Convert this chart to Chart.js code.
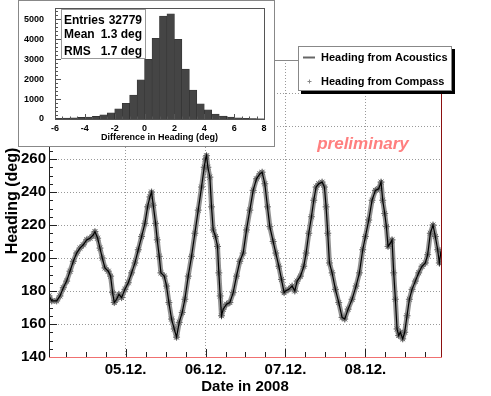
<!DOCTYPE html>
<html>
<head>
<meta charset="utf-8">
<script src="https://cdn.jsdelivr.net/npm/chart.js@4.4.1/dist/chart.umd.min.js"></script>
<style>
    body { margin: 0; background: #fff; }
    #wrap { position: relative; width: 491px; height: 396px; }
    #main { position: absolute; left: 0; top: 0; }
    #inset { position: absolute; left: 18px; top: 0; z-index: 2; }
</style>
</head>
<body>
<div id="wrap">
    <canvas id="main" width="491" height="396"></canvas>
    <canvas id="inset" width="257" height="147"></canvas>
</div>
<script>
// hours since 04.12.2008 00:00
const hours = [1.0, 1.8, 3.3, 4.3, 5.3, 6.3, 7.3, 8.3, 9.3, 10.3, 11.3, 12.3, 13.3, 14.3, 14.8, 15.6, 16.3, 17.0, 17.8, 18.8,
    19.5, 20.1, 20.6, 21.3, 22.0, 22.8, 23.8, 24.8, 25.8, 26.8, 27.8, 28.8, 29.8, 30.6, 31.3, 31.8, 32.3, 33.0, 33.5, 34.1,
    34.6, 35.6, 36.3, 37.0, 37.8, 38.6, 39.3, 40.1, 41.0, 41.8, 42.8, 43.8, 44.8, 45.8, 46.8, 47.6, 48.0, 48.3, 48.7, 49.3,
    49.8, 50.3, 51.0, 51.6, 52.0, 52.4, 52.8, 53.3, 54.3, 55.3, 56.3, 57.3, 58.3, 59.3, 60.3, 61.3, 62.3, 63.3, 64.3, 65.0,
    65.8, 66.6, 67.3, 68.3, 69.1, 70.0, 70.8, 71.6, 72.0, 73.0, 74.0, 74.8, 75.5, 76.5, 77.5, 78.2, 79.0, 79.8, 80.5, 81.2,
    82.0, 83.0, 83.7, 84.2, 84.7, 85.2, 86.0, 87.0, 88.0, 89.0, 89.8, 90.8, 92.0, 93.2, 94.2, 95.2, 96.0, 97.0, 98.0, 99.0,
    100.0, 100.7, 101.2, 101.8, 102.3, 102.8, 103.5, 104.0, 104.5, 105.0, 105.5, 106.0, 106.5, 107.2, 107.8, 108.5, 109.2, 110.0, 111.0, 112.0,
    113.0, 114.0, 114.7, 115.5, 116.3, 117.0, 117.7, 118.2, 118.7];
const headingDeg = [177, 174, 174, 177, 182, 186, 192, 198, 203, 206, 208, 211, 212, 214, 216, 212, 206, 200, 194, 192,
    189, 179, 173, 175, 178, 176, 181, 185, 191, 197, 205, 213, 221, 231, 237, 240, 232, 221, 211, 201,
    191, 189, 183, 173, 163, 157, 152, 161, 167, 175, 189, 201, 215, 229, 243, 255, 260, 262, 255, 249,
    231, 217, 213, 207, 191, 177, 165, 169, 172, 173, 179, 189, 198, 203, 217, 229, 241, 248, 251, 252,
    245, 231, 219, 210, 203, 195, 187, 179, 180, 181, 183, 180, 186, 189, 195, 203, 215, 225, 235, 243,
    245, 246, 243, 231, 215, 197, 191, 181, 173, 164, 163, 169, 175, 183, 191, 205, 213, 223, 235, 241,
    242, 246, 235, 227, 219, 207, 209, 211, 191, 175, 157, 153, 155, 151, 155, 165, 175, 181, 186, 191,
    195, 197, 202, 215, 220, 213, 205, 197, 204];
const dayLabels = ['05.12.', '06.12.', '07.12.', '08.12.'];

// inset histogram: heading difference (deg), 0.5 deg bins
const diffBinCenter = [-5.75, -5.25, -4.75, -4.25, -3.75, -3.25, -2.75, -2.25, -1.75, -1.25, -0.75, -0.25, 0.25, 0.75,
    1.25, 1.75, 2.25, 2.75, 3.25, 3.75, 4.25, 4.75, 5.25, 5.75, 6.25, 6.75, 7.25, 7.75];
const diffCounts = [30, 45, 60, 80, 100, 130, 210, 310, 510, 790, 1200, 1970, 3000, 4050,
    5170, 5280, 4000, 2500, 1450, 760, 460, 250, 150, 100, 60, 30, 20, 10];
const diffYTicks = [0, 1000, 2000, 3000, 4000, 5000];
const diffXTicks = [-6, -4, -2, 0, 2, 4, 6, 8];
const statsLines = [['Entries', '32779'], ['Mean', '1.3 deg'], ['RMS', '1.7 deg']];

Chart.defaults.font.family = "'Liberation Sans', Arial, sans-serif";
Chart.defaults.color = '#000';

const points = hours.map((h, i) => ({ x: h, y: headingDeg[i] }));

const mainDecor = {
    id: 'mainDecor',
    afterDraw(chart) {
        const ctx = chart.ctx;
        const a = chart.chartArea;
        const xs = chart.scales.x, ys = chart.scales.y;
        ctx.save();
        // frame
        ctx.lineWidth = 1;
        ctx.strokeStyle = '#888';
        ctx.beginPath(); ctx.moveTo(a.left, a.top + 0.5); ctx.lineTo(a.right, a.top + 0.5); ctx.stroke();
        ctx.strokeStyle = '#8b1010';
        ctx.beginPath(); ctx.moveTo(a.right + 0.5, a.top); ctx.lineTo(a.right + 0.5, a.bottom); ctx.stroke();
        ctx.strokeStyle = '#222';
        ctx.beginPath(); ctx.moveTo(a.left + 0.5, a.top); ctx.lineTo(a.left + 0.5, a.bottom); ctx.stroke();
        // ticks, pointing inward
        ctx.strokeStyle = '#222';
        ctx.beginPath();
        for (let v = 140; v <= 320; v += 5) {
            const y = Math.round(ys.getPixelForValue(v)) + 0.5;
            ctx.moveTo(a.left, y); ctx.lineTo(a.left + (v % 20 === 0 ? 8 : 4), y);
        }
        for (let h = 6; h < 119; h += 6) {
            const x = Math.round(xs.getPixelForValue(h)) + 0.5;
            ctx.moveTo(x, a.bottom); ctx.lineTo(x, a.bottom - (h % 24 === 0 ? 8 : 5));
        }
        ctx.stroke();
        ctx.strokeStyle = '#f07070';
        ctx.beginPath(); ctx.moveTo(a.left, a.bottom + 0.5); ctx.lineTo(a.right + 1, a.bottom + 0.5); ctx.stroke();

        // y title
        ctx.fillStyle = '#000';
        ctx.font = "bold 16px 'Liberation Sans', Arial, sans-serif";
        ctx.textAlign = 'center';
        ctx.textBaseline = 'middle';
        ctx.translate(12.5, 201);
        ctx.rotate(-Math.PI / 2);
        ctx.fillText('Heading (deg)', 0, 0);
        ctx.setTransform(1, 0, 0, 1, 0, 0);

        // preliminary
        ctx.fillStyle = '#ff7f7f';
        ctx.font = "italic bold 17px 'Liberation Sans', Arial, sans-serif";
        ctx.textBaseline = 'alphabetic';
        ctx.fillText('preliminary', 363, 149);

        // legend box
        ctx.fillStyle = '#000';
        ctx.fillRect(301, 49, 154, 45);
        ctx.fillStyle = '#fff';
        ctx.fillRect(298, 46, 154, 45);
        ctx.strokeStyle = '#888';
        ctx.strokeRect(298.5, 46.5, 153, 44);
        ctx.strokeStyle = '#666';
        ctx.lineWidth = 2;
        ctx.beginPath(); ctx.moveTo(303, 57.5); ctx.lineTo(315, 57.5); ctx.stroke();
        ctx.lineWidth = 1;
        ctx.strokeStyle = '#888';
        ctx.beginPath();
        ctx.moveTo(307.5, 81.5); ctx.lineTo(311.5, 81.5);
        ctx.moveTo(309.5, 79.5); ctx.lineTo(309.5, 83.5);
        ctx.stroke();
        ctx.fillStyle = '#000';
        ctx.font = "bold 11px 'Liberation Sans', Arial, sans-serif";
        ctx.textAlign = 'left';
        ctx.textBaseline = 'middle';
        ctx.fillText('Heading from Acoustics', 321, 58);
        ctx.fillText('Heading from Compass', 321, 82);
        ctx.restore();
    }
};

new Chart(document.getElementById('main'), {
    type: 'line',
    data: {
        datasets: [
            {
                label: 'Heading from Acoustics',
                data: points,
                borderColor: '#000',
                borderWidth: 1.2,
                pointRadius: 0,
                tension: 0,
                order: 0
            },
            {
                // compass readings follow the same trace, densely sampled -> grey band of stars
                label: 'Heading from Compass',
                data: points,
                showLine: true,
                borderColor: 'rgba(110,110,110,0.75)',
                borderWidth: 5,
                borderJoinStyle: 'round',
                borderCapStyle: 'round',
                pointStyle: 'star',
                pointRadius: 3.5,
                pointBorderColor: '#666',
                pointBorderWidth: 1,
                tension: 0,
                order: 1
            }
        ]
    },
    options: {
        responsive: false,
        animation: false,
        devicePixelRatio: 1,
        layout: { padding: { left: 0, top: 60, right: 50, bottom: 0 } },
        plugins: { legend: { display: false }, tooltip: { enabled: false } },
        scales: {
            x: {
                type: 'linear',
                min: 1,
                max: 118.7,
                afterFit: s => { s.height = 39; },
                border: { display: false, dash: [1, 2] },
                grid: {
                    drawTicks: false,
                    color: c => (c.tick && c.tick.value % 24 === 0) ? '#999' : 'rgba(0,0,0,0)'
                },
                ticks: {
                    stepSize: 6,
                    autoSkip: false,
                    maxRotation: 0,
                    padding: 4,
                    font: { size: 15, weight: 'bold' },
                    callback: v => (v % 24 === 0 && v > 0) ? dayLabels[v / 24 - 1] : ''
                },
                title: {
                    display: true,
                    text: 'Date in 2008',
                    font: { size: 15, weight: 'bold' },
                    padding: { top: 0, bottom: 0 }
                }
            },
            y: {
                min: 140,
                max: 320,
                afterFit: s => { s.width = 49; },
                border: { display: false, dash: [1, 2] },
                grid: {
                    drawTicks: false,
                    color: c => (c.tick && c.tick.value > 140 && c.tick.value < 320) ? '#999' : 'rgba(0,0,0,0)'
                },
                ticks: {
                    stepSize: 20,
                    padding: 3,
                    font: { size: 15, weight: 'bold' }
                }
            }
        }
    },
    plugins: [mainDecor]
});

const insetDecor = {
    id: 'insetDecor',
    beforeDraw(chart) {
        const ctx = chart.ctx;
        ctx.save();
        ctx.fillStyle = '#fff';
        ctx.fillRect(0, 0, chart.width, chart.height);
        ctx.strokeStyle = '#888';
        ctx.strokeRect(0.5, 0.5, chart.width - 1, chart.height - 1);
        ctx.restore();
    },
    afterDraw(chart) {
        const ctx = chart.ctx;
        const a = chart.chartArea;
        const xs = chart.scales.x, ys = chart.scales.y;
        ctx.save();
        ctx.strokeStyle = '#555';
        ctx.lineWidth = 1;
        ctx.strokeRect(Math.round(a.left) + 0.5, Math.round(a.top) + 0.5, Math.round(a.right - a.left), Math.round(a.bottom - a.top));
        ctx.beginPath();
        for (let v = 0; v <= 5400; v += 200) {
            const y = Math.round(ys.getPixelForValue(v)) + 0.5;
            ctx.moveTo(a.left, y); ctx.lineTo(a.left + (v % 1000 === 0 ? 6 : 3), y);
        }
        for (let d = -6; d <= 8; d += 0.5) {
            const x = Math.round(xs.getPixelForValue(d)) + 0.5;
            ctx.moveTo(x, a.bottom); ctx.lineTo(x, a.bottom - (d % 2 === 0 ? 5 : 2.5));
        }
        ctx.stroke();

        // x tick labels and title
        ctx.fillStyle = '#000';
        ctx.font = "bold 9px 'Liberation Sans', Arial, sans-serif";
        ctx.textAlign = 'center';
        ctx.textBaseline = 'middle';
        diffXTicks.forEach(v => ctx.fillText(String(v), xs.getPixelForValue(v), a.bottom + 9.5));
        ctx.fillText('Difference in Heading (deg)', (a.left + a.right) / 2, a.bottom + 18.5);

        // stats box
        ctx.fillStyle = '#fff';
        ctx.fillRect(43, 9, 85, 50);
        ctx.strokeStyle = '#999';
        ctx.strokeRect(43.5, 9.5, 84, 49);
        ctx.fillStyle = '#000';
        ctx.font = "bold 12px 'Liberation Sans', Arial, sans-serif";
        ctx.textBaseline = 'middle';
        const rowY = [20.5, 35, 52];
        statsLines.forEach((row, i) => {
            ctx.textAlign = 'left';
            ctx.fillText(row[0], 46, rowY[i]);
            ctx.textAlign = 'right';
            ctx.fillText(row[1], 124, rowY[i]);
        });
        ctx.restore();
    }
};

new Chart(document.getElementById('inset'), {
    type: 'bar',
    data: {
        datasets: [{
            data: diffBinCenter.map((c, i) => ({ x: c, y: diffCounts[i] })),
            backgroundColor: '#454545',
            borderColor: '#2e2e2e',
            borderWidth: 0.6,
            barPercentage: 1,
            categoryPercentage: 1
        }]
    },
    options: {
        responsive: false,
        animation: false,
        devicePixelRatio: 1,
        layout: { padding: { left: 0, top: 7, right: 11, bottom: 0 } },
        plugins: { legend: { display: false }, tooltip: { enabled: false } },
        scales: {
            x: {
                type: 'linear',
                min: -6,
                max: 8,
                offset: false,
                afterFit: s => { s.height = 28; },
                border: { display: false },
                grid: { display: false, offset: false },
                ticks: { display: false }
            },
            y: {
                min: 0,
                max: 5550,
                afterFit: s => { s.width = 37; },
                afterBuildTicks: s => { s.ticks = diffYTicks.map(v => ({ value: v })); },
                border: { display: false },
                grid: { display: false },
                ticks: {
                    padding: 3,
                    font: { size: 9, weight: 'bold' },
                    callback: v => String(v)
                }
            }
        }
    },
    plugins: [insetDecor]
});
</script>
</body>
</html>
